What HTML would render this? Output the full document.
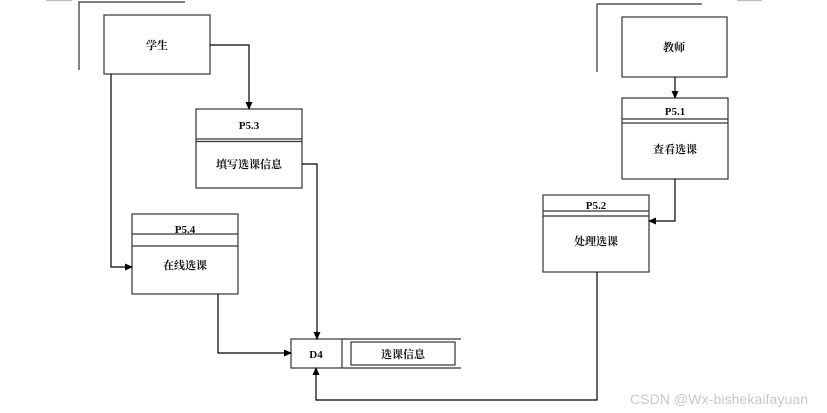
<!DOCTYPE html>
<html><head><meta charset="utf-8"><style>
html,body{margin:0;padding:0;background:#fff;}
svg{display:block;}
text{font-family:"Liberation Serif","Noto Serif CJK SC",serif;font-weight:bold;font-size:11px;fill:#111;}
</style></head><body>
<svg width="827" height="413" viewBox="0 0 827 413" xmlns="http://www.w3.org/2000/svg">
<defs><marker id="a" markerWidth="8" markerHeight="8" refX="7" refY="4" orient="auto" markerUnits="userSpaceOnUse"><path d="M0,0.5 L8,4 L0,7.5 Z" fill="#000"/></marker></defs>
<g stroke="#333" stroke-width="1.2" fill="none">
<line x1="46" y1="0.5" x2="72" y2="0.5" stroke="#bbb"/>
<polyline points="79,70 79,2 185,2"/>
<line x1="737" y1="0.5" x2="762" y2="0.5" stroke="#bbb"/>
<polyline points="597,72 597,4 702,4"/>
<rect x="104" y="15" width="106" height="59"/>
<rect x="196" y="109" width="106" height="79"/>
<line x1="196" y1="139" x2="302" y2="139"/><line x1="196" y1="141.5" x2="302" y2="141.5"/>
<rect x="132" y="214" width="106" height="80"/>
<line x1="132" y1="234" x2="238" y2="234"/><line x1="132" y1="246" x2="238" y2="246"/>
<rect x="622" y="17" width="105" height="60"/>
<rect x="622" y="98" width="106" height="81"/>
<line x1="622" y1="119" x2="728" y2="119"/><line x1="622" y1="123" x2="728" y2="123"/>
<rect x="543" y="195" width="106" height="77"/>
<line x1="543" y1="211" x2="649" y2="211"/><line x1="543" y1="216" x2="649" y2="216"/>
<rect x="291" y="339" width="51" height="29"/>
<line x1="342" y1="339" x2="461" y2="339"/><line x1="342" y1="368" x2="461" y2="368"/>
<rect x="351" y="342" width="104" height="23"/>
</g>
<g stroke="#000" stroke-width="1.2" fill="none">
<polyline points="210,45 249,45 249,109" marker-end="url(#a)"/>
<polyline points="111,74 111,267 132,267" marker-end="url(#a)"/>
<polyline points="218,294 218,353 291,353" marker-end="url(#a)"/>
<polyline points="302,164 317,164 317,339" marker-end="url(#a)"/>
<polyline points="597,272 597,400 316,400 316,368" marker-end="url(#a)"/>
<polyline points="675,77 675,98" marker-end="url(#a)"/>
<polyline points="675,179 675,221 649,221" marker-end="url(#a)"/>
</g>
<g text-anchor="middle">
<text x="157" y="49">学生</text>
<text x="249" y="129">P5.3</text>
<text x="249" y="168">填写选课信息</text>
<text x="185" y="233">P5.4</text>
<text x="185" y="269">在线选课</text>
<text x="674" y="51">教师</text>
<text x="675" y="115">P5.1</text>
<text x="675" y="153">查看选课</text>
<text x="596" y="209">P5.2</text>
<text x="596" y="245">处理选课</text>
<text x="316" y="358">D4</text>
<text x="403" y="358">选课信息</text>
</g>
<text x="630" y="404" textLength="178" style="font-family:'Liberation Sans',sans-serif;font-weight:normal;font-size:14px;fill:#c8c8c8;">CSDN @Wx-bishekaifayuan</text>
</svg>
</body></html>
